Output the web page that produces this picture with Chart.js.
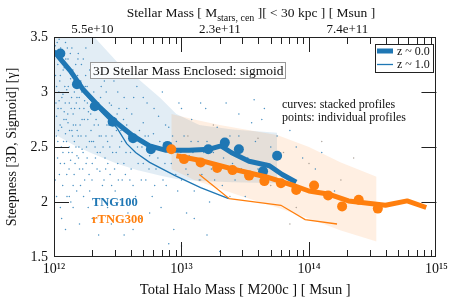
<!DOCTYPE html>
<html>
<head>
<meta charset="utf-8">
<script src="https://cdn.jsdelivr.net/npm/chart.js@4.4.1/dist/chart.umd.min.js"></script>
<style>
  html, body { margin: 0; padding: 0; background: #fff; }
  #wrap { width: 452px; height: 302px; }
</style>
</head>
<body>
<div id="wrap"><canvas id="chart" width="452" height="302"></canvas></div>
<script>
// values: log10(M200c) and sigmoid steepness gamma
var tng100CircleLogM  = [12.05, 12.18, 12.32, 12.46, 12.62, 12.76, 12.89, 13.21, 13.34, 13.45, 13.64, 13.75];
var tng100CircleGamma = [3.35, 3.07, 2.87, 2.73, 2.58, 2.48, 2.51, 2.48, 2.54, 2.48, 2.28, 2.42];

var tng300CircleLogM  = [12.92, 13.02, 13.15, 13.28, 13.40, 13.53, 13.65, 13.78, 13.90, 14.04, 14.15, 14.26, 14.39, 14.54];
var tng300CircleGamma = [2.48, 2.39, 2.36, 2.31, 2.29, 2.24, 2.19, 2.17, 2.11, 2.15, 2.06, 1.96, 2.02, 1.94];

var tng100z0LogM  = [12.0, 12.13, 12.23, 12.36, 12.49, 12.62, 12.75, 12.88, 13.06, 13.22, 13.31, 13.39, 13.53, 13.69, 13.79, 13.9];
var tng100z0Gamma = [3.37, 3.19, 3.02, 2.86, 2.72, 2.60, 2.51, 2.47, 2.47, 2.48, 2.51, 2.45, 2.37, 2.33, 2.25, 2.18];

var tng100z1LogM  = [12.0, 12.13, 12.24, 12.37, 12.49, 12.57, 12.64, 12.75, 12.95, 13.15, 13.37];
var tng100z1Gamma = [3.38, 3.17, 2.99, 2.82, 2.68, 2.53, 2.45, 2.36, 2.24, 2.13, 2.03];

var tng300z0LogM  = [12.96, 13.14, 13.40, 13.66, 13.88, 14.0, 14.16, 14.31, 14.6, 14.77, 14.92];
var tng300z0Gamma = [2.42, 2.38, 2.30, 2.23, 2.15, 2.10, 2.07, 2.01, 1.97, 2.01, 1.95];

var tng300z1LogM  = [13.14, 13.375, 13.78, 13.97, 14.22];
var tng300z1Gamma = [2.25, 2.03, 1.97, 1.84, 1.80];

var tng100BandLogM  = [12.0, 12.15, 12.3, 12.49, 12.65, 12.83, 12.96, 13.14, 13.4, 13.75];
var tng100BandUpper = [3.75, 3.62, 3.52, 3.28, 3.13, 2.95, 2.80, 2.70, 2.66, 2.63];
var tng100BandLower = [2.62, 2.52, 2.44, 2.35, 2.29, 2.24, 2.21, 2.19, 2.18, 2.17];

var tng300BandLogM  = [12.92, 13.1, 13.3, 13.5, 13.75, 14.0, 14.25, 14.53];
var tng300BandUpper = [2.80, 2.75, 2.70, 2.66, 2.61, 2.50, 2.36, 2.23];
var tng300BandLower = [2.30, 2.20, 2.12, 2.04, 1.95, 1.85, 1.74, 1.64];

// individual galaxies (small dots), [log10 M200c, gamma]
var tng100Galaxies = [
  [12.01,3.42],[12.02,3.05],[12.02,2.78],[12.03,3.25],[12.03,2.55],[12.04,3.48],[12.04,2.92],[12.05,2.35],[12.05,3.15],
  [12.06,2.68],[12.06,3.38],[12.07,2.98],[12.07,2.45],[12.08,3.22],[12.08,2.82],[12.09,2.62],[12.09,3.45],[12.1,2.25],
  [12.1,3.02],[12.11,2.72],[12.11,3.3],[12.12,2.5],[12.12,2.9],[12.13,3.12],[12.13,2.38],[12.14,2.65],[12.14,3.4],
  [12.15,2.8],[12.15,2.15],[12.16,3.0],[12.16,2.55],[12.17,3.25],[12.17,2.7],[12.18,2.42],[12.18,2.95],[12.19,3.35],
  [12.19,2.6],[12.2,2.85],[12.2,2.3],[12.21,3.1],[12.22,2.48],[12.22,2.75],[12.23,3.3],[12.24,2.2],[12.24,2.92],
  [12.25,2.6],[12.26,3.05],[12.26,2.4],[12.27,2.82],[12.28,2.1],[12.28,3.2],[12.29,2.65],[12.3,2.95],[12.3,2.35],
  [12.31,2.55],[12.32,3.15],[12.33,2.75],[12.33,2.0],[12.34,2.45],[12.35,2.9],[12.36,2.28],[12.37,3.05],[12.37,2.6],
  [12.38,2.15],[12.39,2.8],[12.4,2.4],[12.41,3.0],[12.42,2.55],[12.42,1.95],[12.43,2.7],[12.44,2.25],[12.45,2.88],
  [12.46,2.45],[12.47,3.1],[12.48,2.1],[12.49,2.65],[12.5,2.35],[12.51,2.85],[12.52,2.02],[12.53,2.55],[12.55,2.95],
  [12.56,2.25],[12.57,2.7],[12.58,1.9],[12.6,2.45],[12.61,2.8],[12.62,2.15],[12.64,2.6],[12.65,3.05],[12.66,2.35],
  [12.68,1.85],[12.69,2.5],[12.7,2.72],[12.72,2.2],[12.73,2.9],[12.75,2.42],[12.77,2.05],[12.78,2.62],[12.8,2.3],
  [12.82,2.78],[12.84,1.95],[12.86,2.5],[12.88,2.15],[12.9,2.68],[12.92,2.35],[12.94,1.75],[12.96,2.55],[12.98,2.9],
  [13.0,2.2],[13.02,2.6],[13.04,1.9],[13.06,2.42],[13.08,2.75],[13.1,2.1],[13.13,2.55],[13.16,2.25],[13.19,2.85],
  [13.22,2.0],[13.25,2.45],[13.28,2.68],[13.32,2.15],[13.35,2.9],[13.4,2.35],[13.45,2.6],[13.5,2.05],[13.55,2.72],
  [13.6,2.3],[13.65,2.85],[13.7,2.5],[13.78,2.2],[13.85,2.65],[13.95,2.4],[14.05,2.3],[14.2,2.1],[13.57,2.93],[13.63,2.75],
  [12.05,1.95],[12.12,2.05],[12.3,1.85],[12.55,1.7],[12.62,1.75],[12.9,1.62],[13.2,1.7],[13.3,1.55],
  [12.005,3.3],[12.015,2.9],[12.025,3.45],[12.035,2.65],[12.045,3.1],[12.055,2.85],[12.065,3.35],[12.075,2.55],
  [12.085,3.05],[12.095,2.75],[12.105,3.4],[12.115,2.45],[12.125,3.2],[12.135,2.85],[12.145,2.6],[12.155,3.1],
  [12.165,2.35],[12.175,2.9],[12.185,3.15],[12.195,2.5],[12.205,2.7],[12.215,3.25],[12.225,2.3],[12.235,2.85],
  [12.245,3.05],[12.255,2.5],[12.265,2.75],[12.275,2.25],[12.285,2.95],[12.295,2.55],[12.305,3.25],[12.315,2.7],
  [12.325,2.4],[12.345,2.85],[12.355,2.6],[12.365,2.95],[12.385,2.5],[12.395,3.1],[12.405,2.3],[12.415,2.7],
  [12.435,2.9],[12.455,2.6],[12.475,2.3],[12.495,2.8],[12.515,2.5],[12.535,2.2],[12.545,2.75],[12.565,2.45],
  [12.585,2.6],[12.605,2.3],[12.625,2.95],[12.655,2.5],[12.685,2.2],[12.715,2.6],[12.745,2.3],[12.785,2.85],
  [12.815,2.4],[12.855,2.2],[12.875,2.7],[12.915,2.5],[12.955,2.25],[12.995,2.45],[13.035,2.3],[13.075,2.55],
  [13.12,2.35],[13.175,2.45],[13.235,2.3],[13.31,2.5],[13.42,2.2],[13.52,2.4],
  [12.0,2.45],[12.01,2.2],[12.012,3.15],[12.018,2.6],[12.022,3.35],[12.028,2.4],[12.032,2.85],[12.038,3.0],
  [12.042,2.25],[12.048,2.7],[12.052,3.4],[12.058,2.5],[12.062,2.95],[12.068,2.15],[12.072,3.2],[12.078,2.75],
  [12.082,2.35],[12.088,2.9],[12.092,3.3],[12.098,2.55],[12.102,2.05],[12.108,2.8],[12.112,3.05],[12.118,2.3],
  [12.122,2.65],[12.128,3.35],[12.132,2.0],[12.138,2.95],[12.142,2.45],[12.148,3.2],[12.152,2.7],[12.158,2.25],
  [12.162,2.85],[12.168,3.05],[12.172,2.5],[12.178,2.1],[12.182,2.65],[12.188,3.3],[12.192,2.4],[12.198,2.95],
  [12.208,2.15],[12.212,2.6],[12.218,3.0],[12.228,2.45],[12.232,2.05],[12.238,2.75],[12.248,3.15],[12.252,2.35],
  [12.262,2.9],[12.268,1.95],[12.278,2.55],[12.288,2.8],[12.298,2.2],[12.312,3.0],[12.322,2.5],[12.338,2.3],
  [12.348,2.7],[12.362,2.45],[12.378,2.85],[12.392,2.2],[12.408,2.6],[12.422,2.35],[12.438,2.5],[12.452,2.15],
  [12.468,2.75],[12.488,2.45],[12.505,2.2],[12.525,2.65],[12.548,2.35],[12.57,2.85],[12.595,2.2],[12.618,2.55],
  [12.64,2.05],[12.67,2.65],[12.7,2.35],[12.74,2.6],[12.79,2.15],[12.83,2.55],[12.87,2.35],[12.93,2.6],
  [12.97,2.1],[13.01,2.4],[13.05,2.25],[13.09,2.45],[13.14,2.2],[13.2,2.55],[13.26,2.2],[13.33,2.4],
  [13.38,2.6],[13.47,2.3],[13.58,2.55],[13.67,2.35],[13.75,2.6],[13.9,2.5],[14.1,2.45],[12.25,3.4],
  [12.4,3.2],[12.5,3.0],[12.7,2.95],[12.85,3.0],[13.0,2.85],[13.15,2.9],[13.45,2.8],
  [12.02,2.05],[12.06,1.85],[12.09,1.75],[12.15,1.95],[12.2,1.8],[12.35,1.7],[12.45,1.8],[12.75,1.9],
  [13.0,1.6],[13.1,1.85]
];
var tng300Galaxies = [
  [13.05,2.6],[13.15,2.2],[13.25,2.7],[13.38,2.05],[13.48,2.5],[13.6,2.58],[13.7,2.15],[13.8,2.45],
  [13.9,1.95],[14.0,2.35],[14.1,2.55],[14.25,2.2],[14.35,2.4],[13.85,1.8]
];

// left axis tick labels and top axis: stellar mass labels placed at these halo masses
var yTickLabels = {'1.5': '1.5', '2': '2', '2.5': '2.5', '3': '3', '3.5': '3.5'};
var topTickHalo = [2e12, 2e13, 2e14];
var topTickLabels = ['5.5e+10', '2.3e+11', '7.4e+11'];

var blue = '#1f77b4', orange = '#ff7f0e';
var serif = '"Liberation Serif", "DejaVu Serif", serif';

function pts(logM, vals) {
  return logM.map(function(l, i) { return {x: Math.pow(10, l), y: vals[i]}; });
}
function dots(list) {
  return list.map(function(p) { return {x: Math.pow(10, p[0]), y: p[1]}; });
}
var sup = {'0':'⁰','1':'¹','2':'²','3':'³','4':'⁴','5':'⁵','6':'⁶','7':'⁷','8':'⁸','9':'⁹'};

var decor = {
  id: 'decor',
  afterDraw: function(chart) {
    var ctx = chart.ctx, a = chart.chartArea, x = chart.scales.x, y = chart.scales.y;
    ctx.save();
    ctx.strokeStyle = '#222';
    ctx.lineWidth = 1;
    ctx.beginPath();
    for (var e = 12; e < 15; e++) {
      for (var m = 1; m < 10; m++) {
        if (e === 12 && m === 1) continue;
        var px = Math.round(x.getPixelForValue(m * Math.pow(10, e))) + 0.5;
        var len = m === 1 ? 15 : 7;
        ctx.moveTo(px, a.bottom); ctx.lineTo(px, a.bottom - len);
        ctx.moveTo(px, a.top); ctx.lineTo(px, a.top + len);
      }
    }
    [2, 2.5, 3].forEach(function(v) {
      var py = Math.round(y.getPixelForValue(v)) + 0.5;
      ctx.moveTo(a.left, py); ctx.lineTo(a.left + 15, py);
      ctx.moveTo(a.right, py); ctx.lineTo(a.right - 15, py);
    });
    ctx.stroke();
    ctx.strokeRect(Math.round(a.left) + 0.5, Math.round(a.top) + 0.5, Math.round(a.width) - 1, Math.round(a.height) - 1);

    // top title with subscript
    var p1 = 'Stellar Mass [ M', sb = 'stars, cen', p2 = ' ][ < 30 kpc ] [ Msun ]';
    ctx.fillStyle = '#111';
    ctx.textBaseline = 'alphabetic';
    ctx.textAlign = 'left';
    ctx.font = '13.5px ' + serif;
    var w1 = ctx.measureText(p1).width, w2 = ctx.measureText(p2).width;
    ctx.font = '10px ' + serif;
    var ws = ctx.measureText(sb).width;
    var sx = 251 - (w1 + ws + w2) / 2;
    ctx.font = '13.5px ' + serif;
    ctx.fillText(p1, sx, 17);
    ctx.fillText(p2, sx + w1 + ws, 17);
    ctx.font = '10px ' + serif;
    ctx.fillText(sb, sx + w1, 21);

    // annotation box
    ctx.fillStyle = 'rgba(255,255,255,0.85)';
    ctx.fillRect(90.5, 62.5, 195, 16);
    ctx.strokeStyle = '#999';
    ctx.strokeRect(90.5, 62.5, 195, 16);
    ctx.fillStyle = '#111';
    ctx.font = '13.5px ' + serif;
    ctx.textBaseline = 'middle';
    ctx.fillText('3D Stellar Mass Enclosed: sigmoid', 93, 71);

    ctx.font = '12px ' + serif;
    ctx.fillText('curves: stacked profiles', 282, 105);
    ctx.fillText('points: individual profiles', 282, 118);

    ctx.font = 'bold 12.5px ' + serif;
    ctx.fillStyle = blue;
    ctx.fillText('TNG100', 92, 203);
    ctx.fillStyle = orange;
    ctx.fillText('rTNG300', 92, 220);

    // legend
    ctx.fillStyle = 'rgba(255,255,255,0.9)';
    ctx.fillRect(375.5, 44.5, 58, 28);
    ctx.strokeStyle = '#222';
    ctx.strokeRect(375.5, 44.5, 58, 28);
    ctx.strokeStyle = blue;
    ctx.lineWidth = 5;
    ctx.beginPath(); ctx.moveTo(377, 51); ctx.lineTo(393, 51); ctx.stroke();
    ctx.lineWidth = 1.3;
    ctx.beginPath(); ctx.moveTo(377, 64.5); ctx.lineTo(393, 64.5); ctx.stroke();
    ctx.fillStyle = '#111';
    ctx.font = '12px ' + serif;
    ctx.fillText('z ~ 0.0', 397, 51.5);
    ctx.fillText('z ~ 1.0', 397, 65);
    ctx.restore();
  }
};

Chart.defaults.font.family = serif;
Chart.defaults.color = '#111';

new Chart(document.getElementById('chart'), {
  type: 'line',
  data: {
    datasets: [
      { data: pts(tng100BandLogM, tng100BandUpper), fill: '+1', backgroundColor: 'rgba(31,119,180,0.13)', borderWidth: 0, pointRadius: 0, order: 20 },
      { data: pts(tng100BandLogM, tng100BandLower), fill: false, borderWidth: 0, pointRadius: 0, order: 19 },
      { data: pts(tng300BandLogM, tng300BandUpper), fill: '+1', backgroundColor: 'rgba(255,127,14,0.12)', borderWidth: 0, pointRadius: 0, order: 18 },
      { data: pts(tng300BandLogM, tng300BandLower), fill: false, borderWidth: 0, pointRadius: 0, order: 17 },
      { data: dots(tng100Galaxies), showLine: false, pointRadius: 0.75, pointBorderWidth: 0, pointBackgroundColor: 'rgba(31,119,180,0.8)', order: 16 },
      { data: dots(tng300Galaxies), showLine: false, pointRadius: 0.75, pointBorderWidth: 0, pointBackgroundColor: 'rgba(140,130,120,0.7)', order: 15 },
      { data: pts(tng100z1LogM, tng100z1Gamma), borderColor: blue, borderWidth: 1.3, pointRadius: 0, order: 14 },
      { data: pts(tng100z0LogM, tng100z0Gamma), borderColor: blue, borderWidth: 5, borderJoinStyle: 'round', pointRadius: 0, order: 13 },
      { data: pts(tng100CircleLogM, tng100CircleGamma), showLine: false, pointRadius: 5, pointBorderWidth: 0, pointBackgroundColor: blue, order: 12 },
      { data: pts(tng300z1LogM, tng300z1Gamma), borderColor: orange, borderWidth: 1.3, pointRadius: 0, order: 11 },
      { data: pts(tng300z0LogM, tng300z0Gamma), borderColor: orange, borderWidth: 5, borderJoinStyle: 'round', pointRadius: 0, order: 10 },
      { data: pts(tng300CircleLogM, tng300CircleGamma), showLine: false, pointRadius: 5, pointBorderWidth: 0, pointBackgroundColor: orange, order: 9 }
    ]
  },
  options: {
    responsive: false,
    devicePixelRatio: 1,
    animation: false,
    layout: { padding: { left: 0, right: 14, top: 0, bottom: 0 } },
    plugins: { legend: { display: false }, tooltip: { enabled: false } },
    scales: {
      x: {
        type: 'logarithmic', position: 'bottom', min: 1e12, max: 1e15,
        grid: { display: false, drawTicks: false }, border: { display: false },
        ticks: {
          autoSkip: false, maxRotation: 0, padding: 4, font: { size: 14 },
          callback: function(v) {
            var l = Math.log10(v);
            if (Math.abs(l - Math.round(l)) > 1e-6) return '';
            return '10' + String(Math.round(l)).split('').map(function(c) { return sup[c]; }).join('');
          }
        },
        title: { display: true, text: 'Total Halo Mass [ M200c ] [ Msun ]', font: { size: 14.5 }, padding: { top: 0, bottom: 3 } },
        afterFit: function(s) { s.height = 45; }
      },
      x2: {
        type: 'logarithmic', position: 'top', display: true, min: 1e12, max: 1e15,
        grid: { display: false, drawTicks: false }, border: { display: false },
        ticks: {
          autoSkip: false, maxRotation: 0, padding: 0, font: { size: 13 },
          callback: function(v) {
            for (var i = 0; i < topTickHalo.length; i++) {
              if (Math.abs(Math.log10(v) - Math.log10(topTickHalo[i])) < 1e-6) return topTickLabels[i];
            }
            return '';
          }
        },
        afterFit: function(s) { s.height = 37; }
      },
      y: {
        min: 1.5, max: 3.5,
        grid: { display: false, drawTicks: false }, border: { display: false },
        ticks: {
          stepSize: 0.5, padding: 6, font: { size: 14 },
          callback: function(v) { return yTickLabels[String(v)] || ''; }
        },
        title: { display: true, text: 'Steepness [3D, Sigmoid] [γ]', font: { size: 14 }, padding: { top: 4, bottom: 0 } },
        afterFit: function(s) { s.width = 54; }
      }
    }
  },
  plugins: [decor]
});
</script>
</body>
</html>
